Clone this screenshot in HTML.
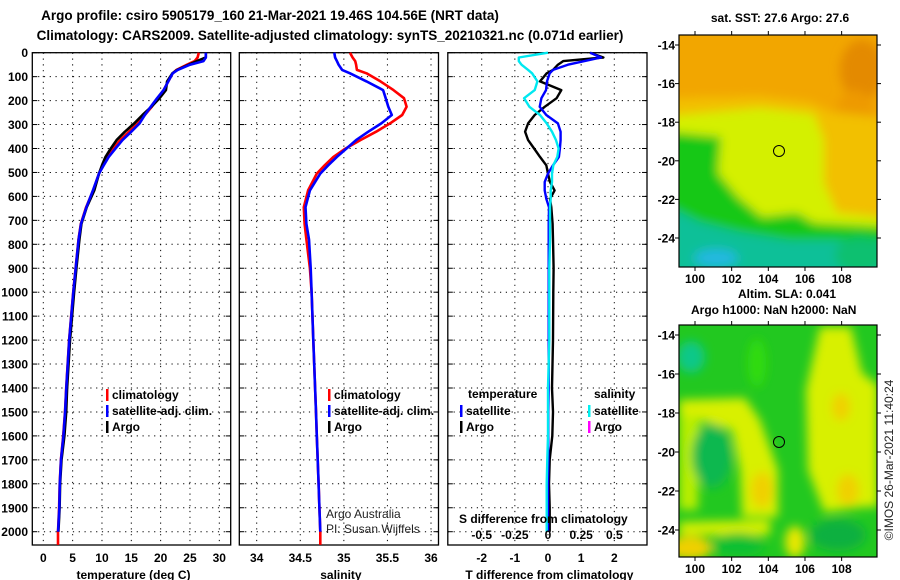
<!DOCTYPE html>
<html><head><meta charset="utf-8"><style>
html,body{margin:0;padding:0;background:#fff;}
svg{display:block;font-family:"Liberation Sans",Arial,sans-serif;}
.b{font-weight:bold;font-size:12px;fill:#000;}
.t{font-weight:bold;font-size:13.5px;fill:#000;}
.n{font-size:12px;fill:#222;}
</style></head><body>
<svg id="fig" width="900" height="580" viewBox="0 0 900 580" xmlns="http://www.w3.org/2000/svg">
<defs>
<clipPath id="c1"><rect x="679" y="35" width="198" height="232"/></clipPath>
<clipPath id="c2"><rect x="679" y="325" width="198" height="232"/></clipPath>
<filter id="bl" x="-20%" y="-20%" width="140%" height="140%"><feGaussianBlur stdDeviation="5"/></filter>
<filter id="bl2" x="-20%" y="-20%" width="140%" height="140%"><feGaussianBlur stdDeviation="5"/></filter>
</defs>
<text class="t" x="270" y="20" text-anchor="middle">Argo profile: csiro 5905179_160 21-Mar-2021 19.46S 104.56E (NRT data)</text>
<text class="t" x="330" y="40" text-anchor="middle">Climatology: CARS2009. Satellite-adjusted climatology: synTS_20210321.nc (0.071d earlier)</text>

<g id="panels"></g>

<!-- SST map -->
<g>
<text class="b" x="780" y="22" text-anchor="middle">sat. SST: 27.6 Argo: 27.6</text>
<g clip-path="url(#c1)">
<rect x="679" y="35" width="198" height="232" fill="#f2a600"/>
<g filter="url(#bl)">
<ellipse cx="862" cy="70" rx="22" ry="30" fill="#e48a00"/>
<ellipse cx="855" cy="120" rx="20" ry="30" fill="#ee9a00"/>
<polygon points="670,98 760,96 810,102 830,112 890,118 890,214 670,214" fill="#f2c000"/>
<polygon points="670,116 760,108 814,114 824,140 824,183 837,213 890,217 890,227 670,227" fill="#d4f000"/>
<polygon points="670,132 721,137 718,173 738,197 762,217 797,213 814,223 890,227 890,280 670,280" fill="#14c814"/>
<polygon points="670,207 700,222 740,232 790,240 890,240 890,280 670,280" fill="#10c098"/>
<ellipse cx="716" cy="258" rx="22" ry="9" fill="#20b8e0"/>
<ellipse cx="860" cy="255" rx="25" ry="18" fill="#10c070"/>
</g>
</g>
<rect x="679" y="35" width="198" height="232" fill="none" stroke="#000" stroke-width="1.2"/>
<circle cx="779" cy="151" r="5.5" fill="none" stroke="#000" stroke-width="1"/>
<g id="ax1"></g>
<text class="b" x="738" y="298">Altim. SLA: 0.041</text>
<text class="b" x="691" y="314">Argo h1000: NaN h2000: NaN</text>
</g>

<!-- SLA map -->
<g>
<g clip-path="url(#c2)">
<rect x="679" y="325" width="198" height="232" fill="#22c820"/>
<g filter="url(#bl2)">
<ellipse cx="691" cy="357" rx="14" ry="16" fill="#10c888"/>
<ellipse cx="757" cy="363" rx="9" ry="24" fill="#30dc10"/>
<path d="M820,327 L851,327 L862,373 L878,385 L878,507 L865,507 L824,512 L808,470 L806,390 Z" fill="#d8f000"/>
<ellipse cx="841" cy="407" rx="9" ry="14" fill="#f0d000"/>
<ellipse cx="848" cy="490" rx="11" ry="16" fill="#f0d000"/>
<ellipse cx="838" cy="535" rx="28" ry="16" fill="#10b040"/>
<path d="M679,400 L745,398 L760,420 L778,470 L778,517 L742,517 L740,470 L732,430 L700,420 L679,418 Z" fill="#d8f000"/>
<path d="M679,415 L700,418 L698,510 L679,510 Z" fill="#b8ee00"/>
<ellipse cx="762" cy="490" rx="11" ry="18" fill="#f0d000"/>
<ellipse cx="712" cy="456" rx="20" ry="32" fill="#10b850"/>
<path d="M679,522 L770,520 L770,535 L679,535 Z" fill="#d8f000"/>
<ellipse cx="690" cy="548" rx="22" ry="12" fill="#f0d000"/>
<ellipse cx="795" cy="542" rx="10" ry="16" fill="#e8e800"/>
<ellipse cx="738" cy="545" rx="26" ry="12" fill="#10c030"/>
</g>
</g>
<rect x="679" y="325" width="198" height="232" fill="none" stroke="#000" stroke-width="1.2"/>
<circle cx="779" cy="442" r="5.5" fill="none" stroke="#000" stroke-width="1"/>
<g id="ax2"></g>
<text class="n" transform="translate(893,460) rotate(-90)" text-anchor="middle">©IMOS 26-Mar-2021 11:40:24</text>
</g>
</svg>
<script>
// ---- data ----
const depths = [0,20,35,50,72,86,120,156,190,226,260,295,330,365,400,435,470,505,575,645,715,780,900,1000,1200,1400,1500,1600,1700,1800,1900,2000,2055];
const tempClim = [26.5,26.3,25.8,24.5,22.7,22.05,21.3,20.5,19.5,18.5,17.3,16.1,14.6,13.1,11.9,10.8,10.1,9.5,8.5,7.3,6.4,6.0,5.5,5.1,4.4,3.9,3.7,3.4,3.0,2.8,2.7,2.5,2.5];
const tempSat = [27.7,27.7,27.3,25.0,22.9,22.05,21.3,20.5,19.4,18.3,17.3,16.4,15.0,13.5,12.3,11.15,10.3,9.5,8.45,7.35,6.42,6.02,5.52,5.12,4.42,3.92,3.72,3.42,3.02,2.82,2.72,2.52,null];
const tempArgo = [27.7,27.7,26.2,24.8,22.8,22.0,21.1,20.9,19.8,18.4,16.9,15.5,13.9,12.5,11.5,10.6,10.0,9.5,8.7,7.4,6.5,6.15,5.65,5.25,4.55,4.05,3.9,3.6,3.1,2.87,2.77,2.57,null];
const salClim = [35.07,35.10,35.13,35.14,35.15,35.26,35.42,35.57,35.69,35.72,35.67,35.53,35.37,35.19,35.02,34.88,34.78,34.69,34.59,34.54,34.55,34.57,34.61,34.63,34.65,34.67,34.68,34.69,34.70,34.71,34.72,34.73,34.73];
const salSat = [34.89,34.90,34.92,34.94,34.98,35.07,35.26,35.45,35.48,35.51,35.55,35.43,35.28,35.14,35.03,34.92,34.82,34.73,34.61,34.56,34.57,34.60,34.62,34.63,34.65,34.67,34.68,34.69,34.70,34.71,34.72,34.73,null];
const diffDepths = [0,20,35,50,72,86,120,156,190,226,260,295,330,365,400,435,470,505,540,575,610,645,715,780,900,1000,1200,1400,1500,1600,1700,1800,1900,2000];
const dTSat = [1.27,1.6,1.1,0.6,0.15,0.05,-0.03,-0.06,-0.2,-0.25,-0.05,0.3,0.38,0.38,0.36,0.33,0.15,0.0,-0.1,-0.1,-0.05,0.03,0.02,0.02,0.02,0.02,0.02,0.02,0.01,0.01,0.01,0.0,0.0,0.0];
const dTArgo = [1.27,1.67,0.46,0.3,0.15,-0.04,-0.24,0.4,0.26,-0.1,-0.4,-0.6,-0.69,-0.6,-0.42,-0.24,-0.05,0.0,0.06,0.2,0.06,0.1,0.14,0.15,0.17,0.16,0.15,0.12,0.15,0.13,0.05,0.03,0.05,0.05];
const dSSat = [0.0,-0.22,-0.22,-0.2,-0.15,-0.12,-0.08,-0.1,-0.18,-0.14,-0.06,-0.01,0.03,0.06,0.08,0.07,0.04,0.03,0.03,0.02,0.02,0.015,0.015,0.015,0.01,0.01,0.01,0.0,0.0,0.0,-0.005,-0.01,-0.01,-0.01];
const depthTicks = [0,100,200,300,400,500,600,700,800,900,1000,1100,1200,1300,1400,1500,1600,1700,1800,1900,2000];
const tempTicks = [0,5,10,15,20,25,30];
const salTicks = [34,34.5,35,35.5,36];
const salTickLabels = ["34","34.5","35","35.5","36"];
const dTTicks = [-2,-1,0,1,2];
const dSTicks = [-0.5,-0.25,0,0.25,0.5];
const dSTickLabels = ["-0.5","-0.25","0","0.25","0.5"];
const lonTicks = [100,102,104,106,108];
const latTicks = [-14,-16,-18,-20,-22,-24];

// ---- scales ----
const NS = 'http://www.w3.org/2000/svg';
const yD = d => 52.7 + d * 0.2395;
const xT = t => 43.3 + t * 5.867;
const xS = s => 256.7 + (s - 34) * 87.15;
const xDT = v => 548 + v * 33.15;
const xDS = v => 548 + v * 132.6;
const mapX = lon => 695 + (lon - 100) * 18.33;
const mapY1 = lat => 45 + (-14 - lat) * 19.3;
const mapY2 = lat => 335 + (-14 - lat) * 19.5;

function el(tag, attrs, parent) {
  const e = document.createElementNS(NS, tag);
  for (const k in attrs) e.setAttribute(k, attrs[k]);
  parent.appendChild(e);
  return e;
}
const root = document.getElementById('panels');

function panel(name, x0, x1, xticks, xscale, xlabels, title, showDepthLabels) {
  const g = el('g', {}, root);
  
  
  const top = 52.7, bot = 545;
  depthTicks.forEach(d => {
    const y = yD(d);
    const gl = el('line', {x1: x0, x2: x1, y1: y, y2: y, stroke: '#000', 'stroke-width': 1, 'stroke-dasharray': '1.2,4.6'}, g);
    
    
    el('line', {x1: x0, x2: x0 + 5, y1: y, y2: y, stroke: '#000'}, g);
    el('line', {x1: x1 - 5, x2: x1, y1: y, y2: y, stroke: '#000'}, g);
    if (showDepthLabels) {
      const t = el('text', {x: 28, y: y + 4.5, 'text-anchor': 'end', class: 'b'}, g);
      
      
      t.textContent = d;
    }
  });
  xticks.forEach((v, i) => {
    const x = xscale(v);
    const gl = el('line', {x1: x, x2: x, y1: top, y2: bot, stroke: '#000', 'stroke-width': 1, 'stroke-dasharray': '1.2,4.6'}, g);
    
    
    const t = el('text', {x: x, y: 562, 'text-anchor': 'middle', class: 'b'}, g);
    
    
    t.textContent = xlabels ? xlabels[i] : v;
  });
  const fr = el('rect', {x: x0, y: top, width: x1 - x0, height: bot - top, fill: 'none', stroke: '#000', 'stroke-width': 1.3}, g);
  
  
  const at = el('text', {x: (x0 + x1) / 2 + 2, y: 579, 'text-anchor': 'middle', class: 'b'}, g);
  
  
  at.textContent = title;
  return g;
}
function series(g, ds, vals, xs, color, name, w) {
  const pts = [];
  ds.forEach((d, i) => { if (vals[i] !== null) pts.push(xs(vals[i]).toFixed(1) + ',' + yD(d).toFixed(1)); });
  const p = el('polyline', {points: pts.join(' '), fill: 'none', stroke: color, 'stroke-width': w || 2.6, 'stroke-linejoin': 'round'}, g);
  
  
}
function legend(g, x, y, color, label, name) {
  el('rect', {x: x, y: y - 10, width: 2.5, height: 12, fill: color}, g);
  const t = el('text', {x: x + 6, y: y, class: 'b'}, g);
  
  
  t.textContent = label;
}
function txt(g, x, y, s, cls, name, anchor) {
  const t = el('text', {x: x, y: y, class: cls, 'text-anchor': anchor || 'start'}, g);
  
  
  t.textContent = s;
}

// temperature panel
const p1 = panel('temperature-panel', 32.3, 230.7, tempTicks, xT, null, 'temperature (deg C)', true);
series(p1, depths, tempClim, xT, '#f00', 'temp-climatology-line');
series(p1, depths, tempArgo, xT, '#000', 'temp-argo-line');
series(p1, depths, tempSat, xT, '#00f', 'temp-satellite-line');
legend(p1, 106, 399, '#f00', 'climatology', 'legend-climatology');
legend(p1, 106, 415, '#00f', 'satellite-adj. clim.', 'legend-satellite');
legend(p1, 106, 431, '#000', 'Argo', 'legend-argo');

// salinity panel
const p2 = panel('salinity-panel', 239.3, 438.5, salTicks, xS, salTickLabels, 'salinity', false);
series(p2, depths, salClim, xS, '#f00', 'sal-climatology-line');
series(p2, depths, salSat, xS, '#00f', 'sal-satellite-line');
legend(p2, 328, 399, '#f00', 'climatology', 'legend-sal-climatology');
legend(p2, 328, 415, '#00f', 'satellite-adj. clim.', 'legend-sal-satellite');
legend(p2, 328, 431, '#000', 'Argo', 'legend-sal-argo');
txt(p2, 326, 518, 'Argo Australia', 'n', 'credit-argo-australia');
txt(p2, 326, 533, 'PI: Susan Wijffels', 'n', 'credit-pi');

// difference panel
const p3 = panel('difference-panel', 447.8, 647, dTTicks, xDT, null, 'T difference from climatology', false);
series(p3, diffDepths, dTArgo, xDT, '#000', 'diff-t-argo-line', 2.4);
series(p3, diffDepths, dTSat, xDT, '#00f', 'diff-t-satellite-line', 2.4);
series(p3, diffDepths, dSSat, xDS, '#00e8f0', 'diff-s-satellite-line', 2.4);
txt(p3, 468, 398, 'temperature', 'b', 'legend-temperature-header');
legend(p3, 460, 415, '#00f', 'satellite', 'legend-t-satellite');
legend(p3, 460, 431, '#000', 'Argo', 'legend-t-argo');
txt(p3, 594, 398, 'salinity', 'b', 'legend-salinity-header');
legend(p3, 588, 415, '#00f0f0', 'satellite', 'legend-s-satellite');
legend(p3, 588, 431, '#f0f', 'Argo', 'legend-s-argo');
txt(p3, 459, 523, 'S difference from climatology', 'b', 's-axis-title');
dSTicks.forEach((v, i) => {
  const t = el('text', {x: xDS(v), y: 539, 'text-anchor': 'middle', class: 'b'}, p3);
  
  
  t.textContent = dSTickLabels[i];
});

// map axes
function mapAxes(id, top, bot, my) {
  const g = document.getElementById(id);
  lonTicks.forEach(lon => {
    const x = mapX(lon);
    el('line', {x1: x, x2: x, y1: top - 4, y2: top, stroke: '#000'}, g);
    el('line', {x1: x, x2: x, y1: bot, y2: bot + 4, stroke: '#000'}, g);
    const t = el('text', {x: x, y: bot + 16, 'text-anchor': 'middle', class: 'b'}, g);
    
    
    t.textContent = lon;
  });
  latTicks.forEach(lat => {
    const y = my(lat);
    el('line', {x1: 675, x2: 679, y1: y, y2: y, stroke: '#000'}, g);
    el('line', {x1: 877, x2: 881, y1: y, y2: y, stroke: '#000'}, g);
    const t = el('text', {x: 675, y: y + 4.5, 'text-anchor': 'end', class: 'b'}, g);
    
    
    t.textContent = lat;
  });
}
mapAxes('ax1', 35, 267, mapY1);
mapAxes('ax2', 325, 557, mapY2);
</script>
</body></html>
